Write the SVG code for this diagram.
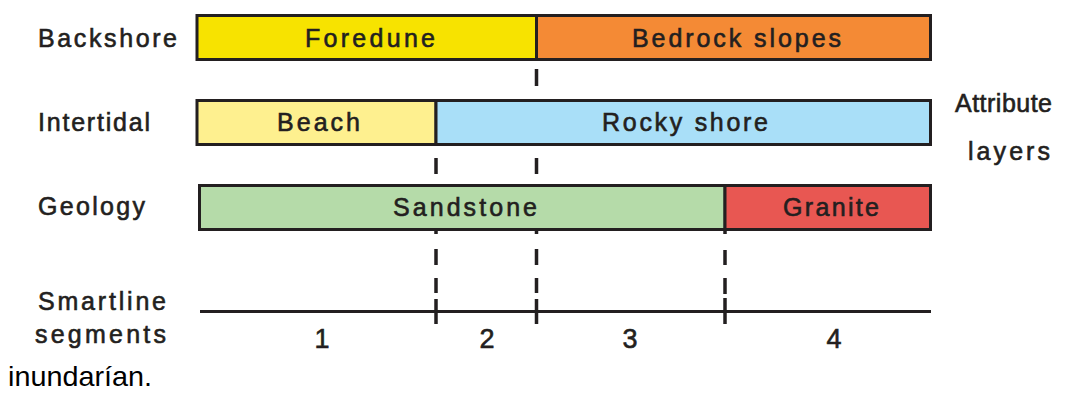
<svg xmlns="http://www.w3.org/2000/svg" width="1067" height="416" viewBox="0 0 1067 416">
  <style>
    .cell { stroke: #231f20; stroke-width: 3; }
    .lbl, .side { font-family: "Liberation Sans", Arial, sans-serif; font-size: 25px; fill: #231f20; stroke: #231f20; stroke-width: 0.6; }
    .num { font-family: "Liberation Sans", Arial, sans-serif; font-size: 27px; fill: #231f20; stroke: #231f20; stroke-width: 0.6; text-anchor: middle; }
    .cap { font-family: "Liberation Sans", Arial, sans-serif; font-size: 28px; fill: #000000; }
    .dash { stroke: #231f20; stroke-width: 3.5; fill: none; }
    .axis { stroke: #231f20; stroke-width: 3; fill: none; }
  </style>
  <rect width="1067" height="416" fill="#ffffff"/>

  <!-- row labels -->
  <g id="label-backshore"><text class="side" x="38" y="47" textLength="139" lengthAdjust="spacing">Backshore</text></g>
  <g id="label-intertidal"><text class="side" x="38" y="131" textLength="112" lengthAdjust="spacing">Intertidal</text></g>
  <g id="label-geology"><text class="side" x="38" y="215" textLength="107" lengthAdjust="spacing">Geology</text></g>
  <g id="label-smartline">
    <text class="side" x="38" y="310" textLength="128" lengthAdjust="spacing">Smartline</text>
    <text class="side" x="35" y="343" textLength="131" lengthAdjust="spacing">segments</text>
  </g>
  <g id="label-attribute">
    <text class="side" x="955" y="112" font-size="23" textLength="97" lengthAdjust="spacing">Attribute</text>
    <text class="side" x="968" y="160" font-size="23" textLength="82" lengthAdjust="spacing">layers</text>
  </g>

  <!-- backshore layer -->
  <g id="foredune">
    <rect class="cell" x="197" y="15.5" width="339.5" height="44" fill="#f7e300"/>
    <text class="lbl" x="305" y="47" textLength="130" lengthAdjust="spacing">Foredune</text>
  </g>
  <g id="bedrock-slopes">
    <rect class="cell" x="536.5" y="15.5" width="394" height="44" fill="#f48a35"/>
    <text class="lbl" x="632" y="47" textLength="209" lengthAdjust="spacing">Bedrock slopes</text>
  </g>

  <!-- intertidal layer -->
  <g id="beach">
    <rect class="cell" x="197" y="100.5" width="239" height="44" fill="#fef08f"/>
    <text class="lbl" x="277" y="131" textLength="83" lengthAdjust="spacing">Beach</text>
  </g>
  <g id="rocky-shore">
    <rect class="cell" x="436" y="100.5" width="494.5" height="44" fill="#a9dff8"/>
    <text class="lbl" x="602" y="131" textLength="166" lengthAdjust="spacing">Rocky shore</text>
  </g>

  <!-- geology layer -->
  <g id="sandstone">
    <rect class="cell" x="199.5" y="185.5" width="525.5" height="44" fill="#b5dba9"/>
    <text class="lbl" x="393" y="216" textLength="144" lengthAdjust="spacing">Sandstone</text>
  </g>
  <g id="granite">
    <rect class="cell" x="725" y="185.5" width="205.5" height="44" fill="#e85752"/>
    <text class="lbl" x="783" y="216" textLength="96" lengthAdjust="spacing">Granite</text>
  </g>

  <!-- segment boundaries and smartline axis -->
  <g id="connectors">
    <line class="axis" x1="200" y1="311.5" x2="931" y2="311.5"/>
    <path class="dash" d="M536.5 69V86 M536.5 158V174 M536.5 231V234 M536.5 249V265 M536.5 278V293 M536.5 299V324"/>
    <path class="dash" d="M436 158V174 M436 231V234 M436 249V265 M436 278V293 M436 299V324"/>
    <path class="dash" d="M725 231V234 M725 250V265 M725 278V294 M725 298V324"/>
  </g>

  <!-- segment numbers -->
  <g id="segment-1"><text class="num" x="322" y="348">1</text></g>
  <g id="segment-2"><text class="num" x="487" y="348">2</text></g>
  <g id="segment-3"><text class="num" x="630" y="348">3</text></g>
  <g id="segment-4"><text class="num" x="834" y="348">4</text></g>

  <g id="caption"><text class="cap" x="8" y="386" textLength="144" lengthAdjust="spacingAndGlyphs">inundarían.</text></g>
</svg>
